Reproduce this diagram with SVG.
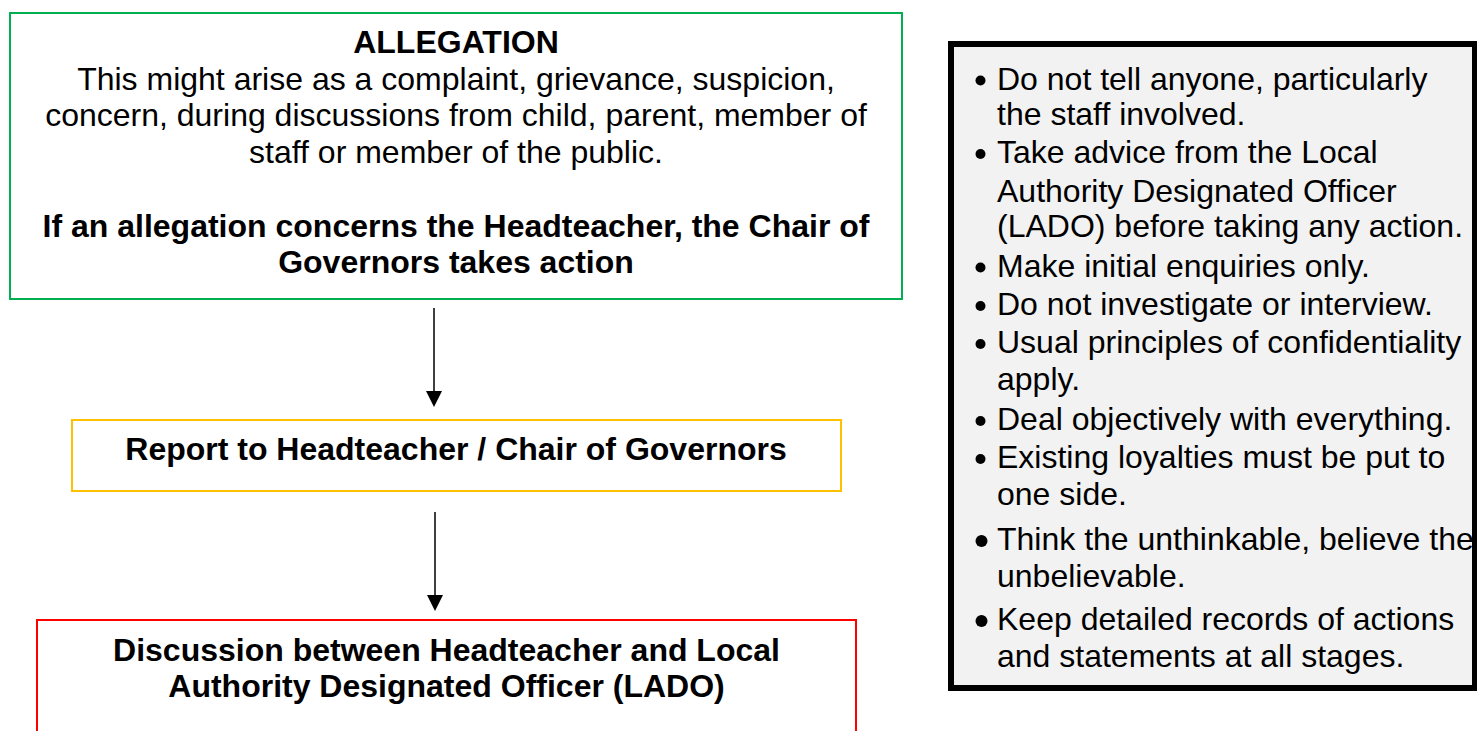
<svg xmlns="http://www.w3.org/2000/svg" width="1477" height="731" viewBox="0 0 1477 731">
<style>
  text { font-family: "Liberation Sans", Arial, sans-serif; font-size: 32px; fill: #000; }
  .c { text-anchor: middle; }
  .b { font-weight: bold; }
  .box { fill: #fff; stroke-width: 2; }
  .conn { stroke: #000; stroke-width: 1.5; fill: none; }
</style>
<defs>
  <marker id="ah" markerWidth="16" markerHeight="16" refX="8" refY="16" orient="auto" markerUnits="userSpaceOnUse" viewBox="0 0 16 16">
    <path d="M0,0 L16,0 L8,16 Z" fill="#000" transform="rotate(-90 8 8)"/>
  </marker>
</defs>
<rect width="1477" height="731" fill="#fff"/>

<g id="allegation">
  <rect class="box" x="10" y="13" width="892" height="286" stroke="#00B050"/>
  <text class="c b" x="456" y="53">ALLEGATION</text>
  <text class="c" x="456" y="89.5">This might arise as a complaint, grievance, suspicion,</text>
  <text class="c" x="456" y="126">concern, during discussions from child, parent, member of</text>
  <text class="c" x="456" y="162.5">staff or member of the public.</text>
  <text class="c b" x="456" y="237">If an allegation concerns the Headteacher, the Chair of</text>
  <text class="c b" x="456" y="273">Governors takes action</text>
</g>

<g id="report">
  <rect class="box" x="72" y="420" width="769" height="71" stroke="#FFC000"/>
  <text class="c b" x="456" y="460">Report to Headteacher / Chair of Governors</text>
</g>

<g id="discussion">
  <rect class="box" x="37" y="620" width="819" height="130" stroke="#FF0000"/>
  <text class="c b" x="446.5" y="661">Discussion between Headteacher and Local</text>
  <text class="c b" x="446.5" y="697">Authority Designated Officer (LADO)</text>
</g>

<g id="connectors">
  <line class="conn" x1="434" y1="308" x2="434" y2="392"/>
  <polygon points="426,391 442,391 434,407" fill="#000"/>
  <line class="conn" x1="435" y1="512" x2="435" y2="596"/>
  <polygon points="427,595 443,595 435,611" fill="#000"/>
</g>

<g id="guidance">
  <rect x="951" y="44" width="524" height="644" fill="#F2F2F2" stroke="#000" stroke-width="6"/>
  <circle cx="980.5" cy="80.5" r="5"/>
  <text x="997" y="89.5">Do not tell anyone, particularly</text>
  <text x="997" y="125">the staff involved.</text>
  <circle cx="980.5" cy="154" r="5"/>
  <text x="997" y="163">Take advice from the Local</text>
  <text x="997" y="201.5">Authority Designated Officer</text>
  <text x="997" y="236.5">(LADO) before taking any action.</text>
  <circle cx="980.5" cy="267.5" r="5"/>
  <text x="997" y="276.5">Make initial enquiries only.</text>
  <circle cx="980.5" cy="306" r="5"/>
  <text x="997" y="315">Do not investigate or interview.</text>
  <circle cx="980.5" cy="344" r="5"/>
  <text x="997" y="353">Usual principles of confidentiality</text>
  <text x="997" y="390">apply.</text>
  <circle cx="980.5" cy="421" r="5"/>
  <text x="997" y="430">Deal objectively with everything.</text>
  <circle cx="980.5" cy="459" r="5"/>
  <text x="997" y="468">Existing loyalties must be put to</text>
  <text x="997" y="505">one side.</text>
  <circle cx="981.5" cy="541" r="6"/>
  <text x="997" y="550">Think the unthinkable, believe the</text>
  <text x="997" y="587">unbelievable.</text>
  <circle cx="981.5" cy="621" r="6"/>
  <text x="997" y="630">Keep detailed records of actions</text>
  <text x="997" y="667">and statements at all stages.</text>
</g>
</svg>
